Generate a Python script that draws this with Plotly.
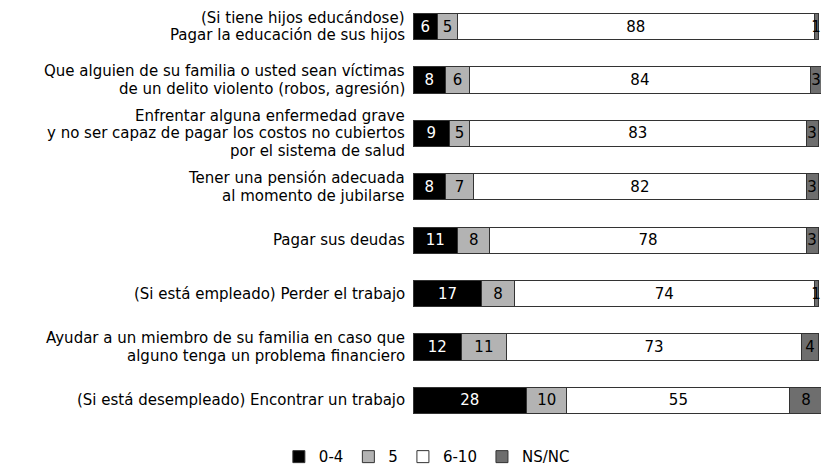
import plotly.graph_objects as go

categories = [
    "(Si tiene hijos educándose)<br>Pagar la educación de sus hijos",
    "Que alguien de su familia o usted sean víctimas<br>de un delito violento (robos, agresión)",
    "Enfrentar alguna enfermedad grave<br>y no ser capaz de pagar los costos no cubiertos<br>por el sistema de salud",
    "Tener una pensión adecuada<br>al momento de jubilarse",
    "Pagar sus deudas",
    "(Si está empleado) Perder el trabajo",
    "Ayudar a un miembro de su familia en caso que<br>alguno tenga un problema financiero",
    "(Si está desempleado) Encontrar un trabajo",
]
v_0_4 = [6, 8, 9, 8, 11, 17, 12, 28]
v_5 = [5, 6, 5, 7, 8, 8, 11, 10]
v_6_10 = [88, 84, 83, 82, 78, 74, 73, 55]
v_nsnc = [1, 3, 3, 3, 3, 1, 4, 8]

series = [
    ("0-4", v_0_4, "#000000", "#ffffff"),
    ("5", v_5, "#b3b3b3", "#000000"),
    ("6-10", v_6_10, "#ffffff", "#000000"),
    ("NS/NC", v_nsnc, "#6e6e6e", "#000000"),
]

FONT = "DejaVu Sans"
LABEL_SIZE = 15
LINE_H = 17.5

fig = go.Figure()
for name, vals, color, tcolor in series:
    fig.add_trace(go.Bar(
        name=name, y=categories, x=vals, orientation="h",
        marker=dict(color=color, line=dict(color="#333333", width=1)),
        text=[str(v) for v in vals], textposition="inside",
        insidetextanchor="middle", textangle=0,
        textfont=dict(family=FONT, size=15, color=tcolor),
        cliponaxis=True,
    ))

# category labels, one annotation per line for tighter line spacing
for cat in categories:
    lines = cat.split("<br>")
    n = len(lines)
    for i, ln in enumerate(lines):
        fig.add_annotation(
            x=0, xref="paper", xanchor="right", xshift=-7,
            y=cat, yref="y", yanchor="middle",
            yshift=((n - 1) / 2 - i) * LINE_H,
            text=ln, showarrow=False, borderpad=0,
            font=dict(family=FONT, size=LABEL_SIZE, color="#000000"),
        )

fig.update_layout(
    width=821, height=467,
    barmode="stack", bargap=0.51,
    margin=dict(l=413, r=0, t=0, b=40, autoexpand=False),
    paper_bgcolor="white", plot_bgcolor="white",
    font=dict(family=FONT, size=14, color="#000000"),
    uniformtext=dict(minsize=15, mode="show"),
    showlegend=True,
    legend=dict(orientation="h", x=0.034, xanchor="center",
                y=-0.07, yanchor="middle", font=dict(family=FONT, size=15),
                itemwidth=30, traceorder="normal"),
)
fig.update_xaxes(range=[0, 100.7], visible=False, showgrid=False, zeroline=False)
fig.update_yaxes(autorange="reversed", showgrid=False, zeroline=False, showline=False,
                 showticklabels=False, ticks="", automargin=False)

fig.write_html("out.html", config={"displayModeBar": False},
               post_script="document.body.style.margin='0';")
